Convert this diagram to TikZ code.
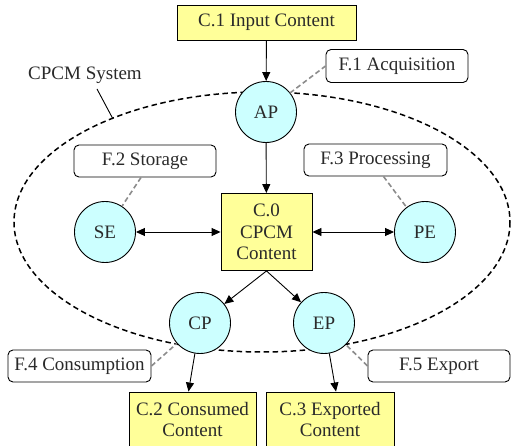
\documentclass[tikz,border=0pt]{standalone}
\usepackage{fontspec}
\setmainfont{Liberation Serif}
\usetikzlibrary{arrows.meta}
\definecolor{cyel}{HTML}{FFFF99}
\definecolor{ccyan}{HTML}{CCFFFF}
\definecolor{txtgray}{HTML}{2A2A2A}
\definecolor{lgray}{HTML}{8C8C8C}
\begin{document}
\begin{tikzpicture}[x=1pt,y=-1pt,
  every node/.style={font=\fontsize{19}{21.5}\selectfont, text=txtgray},
  content/.style={draw=black, fill=cyel, line width=0.9pt, inner sep=0pt, align=center},
  func/.style={draw=black, fill=white, rounded corners=5pt, line width=0.9pt, inner sep=0pt},
  proc/.style={draw=black, fill=ccyan, circle, line width=0.9pt, minimum size=61pt, inner sep=0pt},
  arr/.style={-{Triangle[length=9pt,width=8pt]}, line width=0.9pt},
  darr/.style={{Triangle[length=9pt,width=8pt]}-{Triangle[length=9pt,width=8pt]}, line width=0.9pt},
  gl/.style={draw=lgray, line width=1.6pt, dash pattern=on 5pt off 3pt}
]
\useasboundingbox (0,0) rectangle (515,446);
% system ellipse
\draw[line width=1.5pt, dash pattern=on 5.5pt off 3.5pt] (262,222) ellipse [x radius=248, y radius=130];
\coordinate (lineend) at (113,119);
\node (sys) at (85,75) {CPCM System};
\draw[line width=0.9pt] (97,89) -- (lineend);

% nodes
\node[content, minimum width=179pt, minimum height=35pt] (c1) at (266.5,22.5) {C.1 Input Content};
\node[proc] (ap) at (266,112) {AP};
\node[func, minimum width=142pt, minimum height=33pt] (f1) at (397,66) {F.1 Acquisition};
\node[content, minimum width=91pt, minimum height=77pt] (c0) at (266.5,232) {C.0\\CPCM\\Content};
\node[proc] (se) at (105,232) {SE};
\node[proc] (pe) at (425,232) {PE};
\node[func, minimum width=142pt, minimum height=32pt] (f2) at (145,161) {F.2 Storage};
\node[func, minimum width=143pt, minimum height=32pt] (f3) at (375.5,160) {F.3 Processing};
\node[proc] (cp) at (200,323) {CP};
\node[proc] (ep) at (324,323) {EP};
\node[func, minimum width=143pt, minimum height=32pt] (f4) at (79.5,366) {F.4 Consumption};
\node[func, minimum width=142pt, minimum height=32pt] (f5) at (439,366) {F.5 Export};
\node[content, minimum width=127pt, minimum height=55pt] (c2) at (192.5,419.5) {C.2 Consumed\\Content};
\node[content, minimum width=128pt, minimum height=55pt] (c3) at (330,419.5) {C.3 Exported\\Content};

% connectors
\draw[arr] (c1) -- (ap);
\draw[arr] (ap) -- (c0);
\draw[darr] (se) -- (c0);
\draw[darr] (c0) -- (pe);
\draw[arr] (c0.south) -- (cp);
\draw[arr] (c0.south) -- (ep);
\draw[arr] (cp) -- ([xshift=-4pt]c2.north);
\draw[arr] (ep) -- ([xshift=6pt]c3.north);

% dashed gray associations
\draw[gl] (ap) ++(24,-19) -- (f1.west);
\draw[gl] ([xshift=-4pt]f2.south) -- (se);
\draw[gl] ([xshift=8pt]f3.south) -- (pe);
\draw[gl] (f4.east) -- (cp);
\draw[gl] (f5.west) -- (ep);
\end{tikzpicture}
\end{document}
